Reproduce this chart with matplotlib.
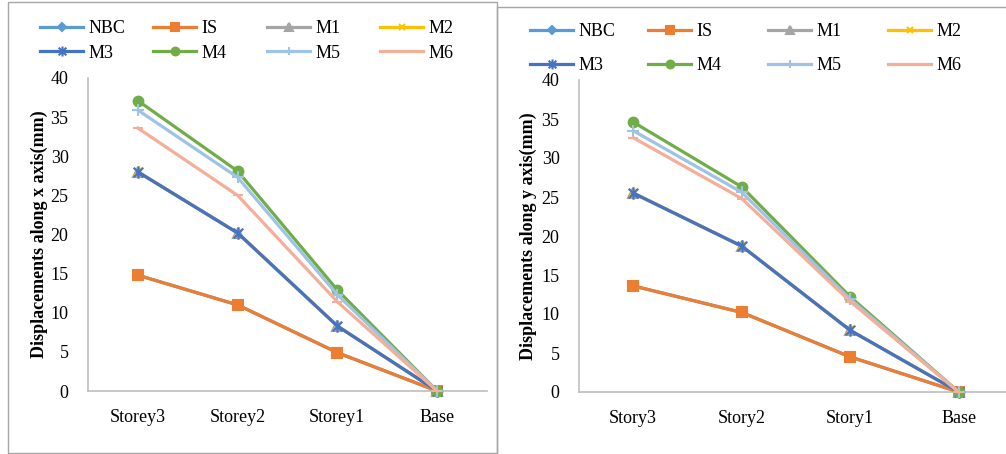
import numpy as np
import matplotlib
matplotlib.use('Agg')
import matplotlib.pyplot as plt
from matplotlib.patches import Rectangle
from matplotlib.path import Path

plt.rcParams['font.family'] = ['Liberation Serif', 'DejaVu Serif']

# 데이터
floors_x = ['Storey3', 'Storey2', 'Storey1', 'Base']
floors_y = ['Story3', 'Story2', 'Story1', 'Base']
series = ['NBC', 'IS', 'M1', 'M2', 'M3', 'M4', 'M5', 'M6']

# x 방향 변위(mm)
nbc_x = [14.8, 11.0, 4.9, 0]
is_x = [14.8, 11.0, 4.9, 0]
m1_x = [28.0, 20.2, 8.3, 0]
m2_x = [28.0, 20.2, 8.3, 0]
m3_x = [28.0, 20.2, 8.3, 0]
m4_x = [37.1, 28.1, 12.9, 0]
m5_x = [35.9, 27.3, 12.3, 0]
m6_x = [33.6, 25.0, 11.4, 0]

# y 방향 변위(mm)
nbc_y = [13.6, 10.2, 4.5, 0]
is_y = [13.6, 10.2, 4.5, 0]
m1_y = [25.5, 18.7, 7.9, 0]
m2_y = [25.5, 18.7, 7.9, 0]
m3_y = [25.5, 18.7, 7.9, 0]
m4_y = [34.6, 26.3, 12.2, 0]
m5_y = [33.5, 25.6, 11.9, 0]
m6_y = [32.6, 24.8, 11.6, 0]

# 엑셀 별표 마커 (x + 세로선)
star = Path([(-1, -1), (1, 1), (-1, 1), (1, -1), (0, -1.3), (0, 1.3)],
            [Path.MOVETO, Path.LINETO, Path.MOVETO, Path.LINETO, Path.MOVETO, Path.LINETO])

colors = ['#5B9BD5', '#ED7D31', '#A5A5A5', '#FFC000', '#4472C4', '#70AD47', '#9DC3E6', '#F5AE97']
markers = ['D', 's', '^', 'x', star, 'o', '+', '_']
msizes = [4.5, 7.5, 6.5, 5.5, 9, 7, 8, 7]

fig = plt.figure(figsize=(10.06, 4.54), dpi=100)

# 차트 테두리
fig.add_artist(Rectangle((8 / 1006, 1 - 453 / 454), 489 / 1006, 451 / 454, transform=fig.transFigure,
                         fill=False, edgecolor='#a6a6a6', lw=1))
fig.add_artist(Rectangle((497 / 1006, -0.1), 0.6, 1 - 7 / 454 + 0.1, transform=fig.transFigure,
                         fill=False, edgecolor='#a6a6a6', lw=1))


def draw(rect, cats, data, ylabel, leg_x, leg_y, leg_gap, label_x):
    ax = fig.add_axes(rect)
    pos = np.arange(len(cats))
    for i, name in enumerate(series):
        ax.plot(pos, data[i], color=colors[i], lw=2.3, marker=markers[i], ms=msizes[i],
                mew=1.5, label=name, clip_on=False, zorder=3 + i)
    ax.set_xlim(-0.5, 3.5)
    ax.set_ylim(0, 40)
    ax.set_yticks(range(0, 41, 5))
    ax.set_xticks(pos)
    ax.set_xticklabels(cats)
    ax.tick_params(length=0, labelsize=13)
    ax.tick_params(axis='y', pad=14)
    ax.tick_params(axis='x', pad=13)
    for s in ['top', 'right']:
        ax.spines[s].set_visible(False)
    for s in ['left', 'bottom']:
        ax.spines[s].set_color('#bfbfbf')
        ax.spines[s].set_linewidth(1.2)
    ax.set_ylabel(ylabel, fontsize=13, fontweight='bold')
    ax.yaxis.set_label_coords(label_x, 0.5)

    # 범례: 4열, 열마다 위치 지정
    handles, labels = ax.get_legend_handles_labels()
    for c in range(4):
        leg = ax.legend([handles[c], handles[c + 4]], [labels[c], labels[c + 4]],
                        loc='upper left', bbox_to_anchor=(leg_x[c], leg_y),
                        bbox_transform=fig.transFigure, frameon=False, fontsize=13,
                        handlelength=2.4, handletextpad=0.3, labelspacing=leg_gap,
                        borderpad=0, borderaxespad=0, markerscale=0.8)
        if c < 3:
            ax.add_artist(leg)
    return ax


draw([88 / 1006, 1 - 391 / 454, 399 / 1006, 313 / 454], floors_x,
     [nbc_x, is_x, m1_x, m2_x, m3_x, m4_x, m5_x, m6_x],
     'Displacements along x axis(mm)',
     [40 / 1006, 153 / 1006, 267 / 1006, 380 / 1006], 1 - 20 / 454, 0.42, -0.10)

draw([579 / 1006, 1 - 392 / 454, 434 / 1006, 312 / 454], floors_y,
     [nbc_y, is_y, m1_y, m2_y, m3_y, m4_y, m5_y, m6_y],
     'Displacements along y axis(mm)',
     [530 / 1006, 648 / 1006, 768 / 1006, 888 / 1006], 1 - 23 / 454, 0.95, -0.097)

fig.savefig('out.png', dpi=100)
